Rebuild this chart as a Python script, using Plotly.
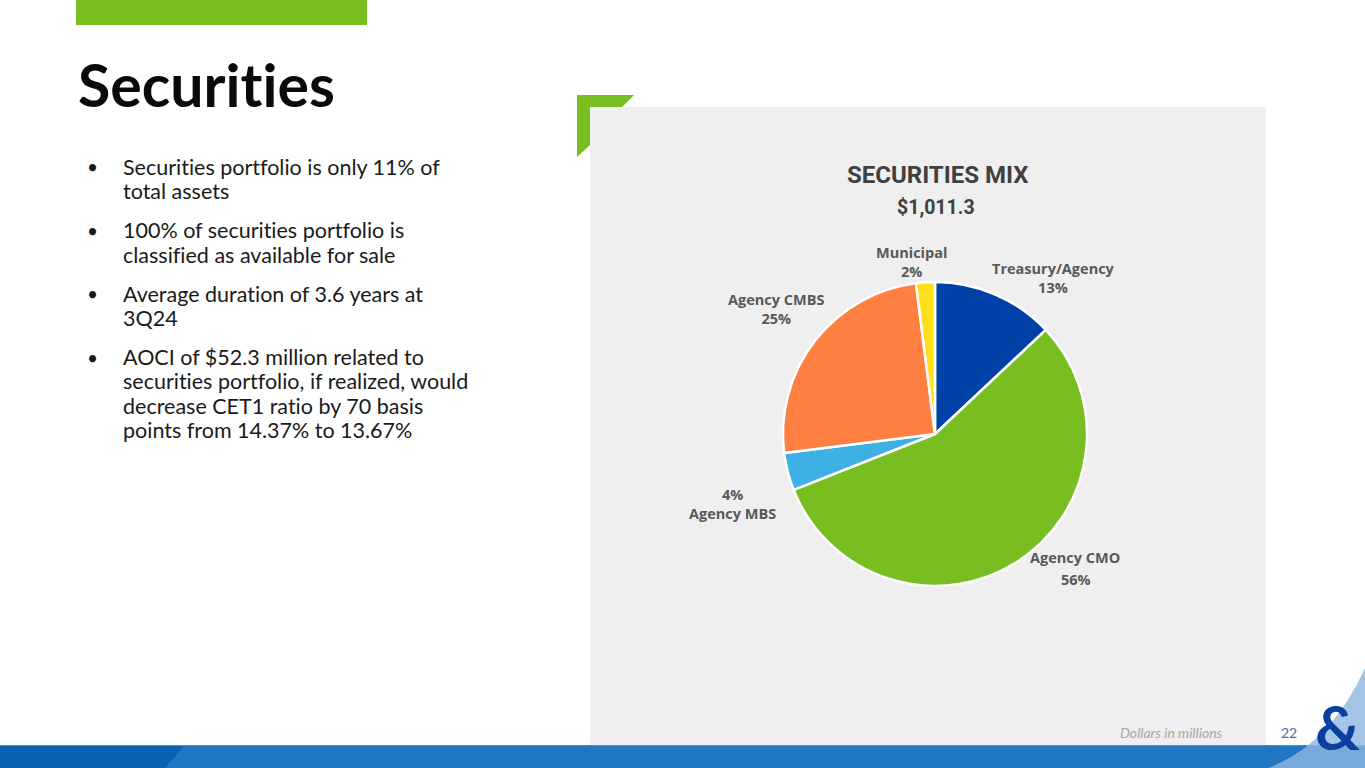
import plotly.graph_objects as go

W, H = 1365, 768

# ---- data ----
categories = ["Treasury/Agency", "Agency CMO", "Agency MBS", "Agency CMBS", "Municipal"]
shares = [13, 56, 4, 25, 2]
colors = ["#0041A8", "#78BE20", "#3DB1E4", "#FF8040", "#FFE01B"]
chart_title = "SECURITIES MIX"
chart_total = "$1,011.3"
slide_title = "Securities"
bullets = [
    ["Securities portfolio is only 11% of", "total assets"],
    ["100% of securities portfolio is", "classified as available for sale"],
    ["Average duration of 3.6 years at", "3Q24"],
    ["AOCI of $52.3 million related to", "securities portfolio, if realized, would",
     "decrease CET1 ratio by 70 basis", "points from 14.37% to 13.67%"],
]
footnote = "Dollars in millions"
page_no = "22"


def px(x):
    return x / W


def py(y):
    return 1 - y / H


NOLIG = '<span style="font-variant-ligatures:none;font-feature-settings:\'liga\' 0">{}</span>'

fig = go.Figure()

# pie centered at (935, 434), radius ~152
cx, cy, r = 935, 434, 152
fig.add_trace(go.Pie(
    labels=categories, values=shares, sort=False, direction="clockwise", rotation=0,
    marker=dict(colors=colors, line=dict(color="white", width=2.5)),
    textinfo="none", hoverinfo="label+percent", showlegend=False,
    domain=dict(x=[px(cx - r), px(cx + r)], y=[py(cy + r), py(cy - r)]),
))

shapes = []
# gray panel
shapes.append(dict(type="rect", xref="paper", yref="paper", x0=px(590), x1=px(1266),
                   y0=py(745), y1=py(107), fillcolor="#EFEFEF", line=dict(width=0), layer="below"))
# green corner bracket
pts = [(577, 95), (634, 95), (622, 107), (590, 107), (590, 145), (577, 157)]
path = "M " + " L ".join(f"{px(x)},{py(y)}" for x, y in pts) + " Z"
shapes.append(dict(type="path", xref="paper", yref="paper", path=path,
                   fillcolor="#78BE20", line=dict(width=0), layer="below"))
# green bar top
shapes.append(dict(type="rect", xref="paper", yref="paper", x0=px(76), x1=px(367),
                   y0=py(25), y1=py(0), fillcolor="#78BE20", line=dict(width=0), layer="below"))
# bottom blue bar
shapes.append(dict(type="rect", xref="paper", yref="paper", x0=0, x1=1,
                   y0=0, y1=py(745), fillcolor="#2277C3", line=dict(width=0), layer="below"))
bpts = [(0, 745), (185, 745), (165, 768), (0, 768)]
shapes.append(dict(type="path", xref="paper", yref="paper",
                   path="M " + " L ".join(f"{px(x)},{py(y)}" for x, y in bpts) + " Z",
                   fillcolor="#0A62B5", line=dict(width=0), layer="below"))
shapes.append(dict(type="line", xref="paper", yref="paper", x0=0, x1=1, y0=py(745.5), y1=py(745.5),
                   line=dict(color="#4A90CF", width=1), layer="below"))
# light swoosh at bottom right
spath = (f"M {px(1268)},{py(768)} Q {px(1330)},{py(745)} {px(1365)},{py(668)} "
         f"L {px(1365)},{py(768)} Z")
shapes.append(dict(type="path", xref="paper", yref="paper", path=spath,
                   fillcolor="#8DB6E0", opacity=0.8, line=dict(width=0), layer="below"))

ann = []
FONT = "Lato"
# slide title
ann.append(dict(text="<b>" + NOLIG.format(slide_title) + "</b>", x=px(76), y=py(84),
                xref="paper", yref="paper",
                xanchor="left", yanchor="middle", showarrow=False,
                font=dict(family=FONT, size=59, color="#0A0A0A")))
# bullets
y = 167
for blk in bullets:
    ann.append(dict(text="•", x=px(93), y=py(y), xref="paper", yref="paper", xanchor="center",
                    yanchor="middle", showarrow=False, font=dict(family=FONT, size=19, color="#1A1A1A")))
    for line in blk:
        ann.append(dict(text=NOLIG.format(line), x=px(121), y=py(y), xref="paper", yref="paper",
                        xanchor="left", yanchor="middle", showarrow=False,
                        font=dict(family=FONT, size=21.5, color="#1A1A1A")))
        y += 24.2
    y += 15

# chart title
ann.append(dict(text=f"<b>{chart_title}</b>", x=px(937), y=py(175), xref="paper", yref="paper",
                xanchor="center", yanchor="middle", showarrow=False,
                font=dict(family="Roboto", size=24, color="#404040")))
ann.append(dict(text=f"<b>{chart_total}</b>", x=px(936), y=py(207), xref="paper", yref="paper",
                xanchor="center", yanchor="middle", showarrow=False,
                font=dict(family="Roboto", size=19.5, color="#404040")))

# slice labels: (x center, y center of two-line block, percent first?)
label_pos = {
    "Treasury/Agency": (1053, 278, False),
    "Agency MBS": (732, 504, True),
    "Agency CMBS": (776, 309, False),
    "Municipal": (912, 262, False),
}
LFONT = dict(family="Open Sans", size=14.5, color="#595959")
for cat, val in zip(categories, shares):
    if cat == "Agency CMO":
        ann.append(dict(text=f"<b>{cat}</b>", x=px(1075), y=py(557), xref="paper", yref="paper",
                        xanchor="center", yanchor="middle", showarrow=False, font=LFONT))
        ann.append(dict(text=f"<b>{val}%</b>", x=px(1076), y=py(579), xref="paper", yref="paper",
                        xanchor="center", yanchor="middle", showarrow=False, font=LFONT))
        continue
    x, yc, pct_first = label_pos[cat]
    txt = f"<b>{val}%<br>{cat}</b>" if pct_first else f"<b>{cat}<br>{val}%</b>"
    ann.append(dict(text=txt, x=px(x), y=py(yc), xref="paper", yref="paper",
                    xanchor="center", yanchor="middle", showarrow=False, font=LFONT))

# footer
ann.append(dict(text=f"<i>{footnote}</i>", x=px(1225), y=py(732), xref="paper", yref="paper",
                xanchor="right", yanchor="middle", showarrow=False,
                font=dict(family=FONT, size=14, color="#A6A6A6")))
ann.append(dict(text=page_no, x=px(1289), y=py(732), xref="paper", yref="paper",
                xanchor="center", yanchor="middle", showarrow=False,
                font=dict(family=FONT, size=14, color="#4A6FA5")))
# logo ampersand
ann.append(dict(text="<b>&</b>", x=px(1337), y=py(726), xref="paper", yref="paper",
                xanchor="center", yanchor="middle", showarrow=False,
                font=dict(family="Lato", size=62, color="#0A3FA0")))

fig.update_layout(
    width=W, height=H, margin=dict(l=0, r=0, t=0, b=0),
    paper_bgcolor="white", plot_bgcolor="white",
    shapes=shapes, annotations=ann,
)

fig.write_html("out.html", config={"displayModeBar": False},
               post_script="document.body.style.margin='0';document.body.style.overflow='hidden';")
